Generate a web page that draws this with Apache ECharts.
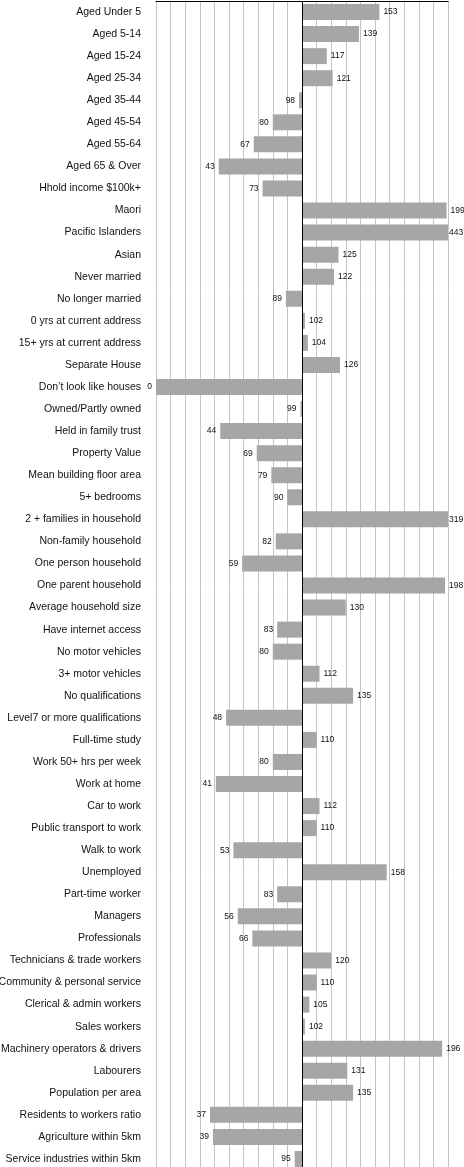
<!DOCTYPE html>
<html><head><meta charset="utf-8">
<script src="https://cdn.jsdelivr.net/npm/echarts@6/dist/echarts.min.js"></script>
<style>html,body{margin:0;padding:0;background:#fff;overflow:hidden}#c{width:464px;height:1167px}</style>
</head><body><div id="c"></div>
<script>
const categories = [
  "Aged Under 5","Aged 5-14","Aged 15-24","Aged 25-34","Aged 35-44","Aged 45-54","Aged 55-64","Aged 65 & Over",
  "Hhold income $100k+","Maori","Pacific Islanders","Asian","Never married","No longer married",
  "0 yrs at current address","15+ yrs at current address","Separate House","Don\u2019t look like houses",
  "Owned/Partly owned","Held in family trust","Property Value","Mean building floor area","5+ bedrooms",
  "2 + families in household","Non-family household","One person household","One parent household",
  "Average household size","Have internet access","No motor vehicles","3+ motor vehicles","No qualifications",
  "Level7 or more qualifications","Full-time study","Work 50+ hrs per week","Work at home","Car to work",
  "Public transport to work","Walk to work","Unemployed","Part-time worker","Managers","Professionals",
  "Technicians & trade workers","Community & personal service","Clerical & admin workers","Sales workers",
  "Machinery operators & drivers","Labourers","Population per area","Residents to workers ratio",
  "Agriculture within 5km","Service industries within 5km"
];
const values = [
  153,139,117,121,98,80,67,43,
  73,199,443,125,122,89,
  102,104,126,0,
  99,44,69,79,90,
  319,82,59,198,
  130,83,80,112,135,
  48,110,80,41,112,
  110,53,158,83,56,66,
  120,110,105,102,
  196,131,135,37,
  39,95
];
const baseline = 100;
const axisMin = 0, axisMax = 200, tickStep = 10;

const chart = echarts.init(document.getElementById('c'), null, {renderer: 'canvas'});
chart.setOption({
  animation: false,
  grid: {left: 156, right: 16, top: 1, height: 1169, containLabel: false, outerBoundsMode: 'none'},
  xAxis: {
    type: 'value', position: 'top',
    min: axisMin - baseline, max: axisMax - baseline, interval: tickStep,
    axisLine: {show: true, lineStyle: {color: '#000', width: 1}},
    axisTick: {show: false}, axisLabel: {show: false},
    splitLine: {show: true, lineStyle: {color: '#c4c4c4', width: 1}}
  },
  yAxis: {
    type: 'category', inverse: true, data: categories,
    axisLine: {show: false}, axisTick: {show: false},
    axisLabel: {margin: 15, fontSize: 10.5, color: '#111', fontFamily: '"Liberation Sans", Arial, sans-serif'}
  },
  series: [{
    type: 'bar', barWidth: 16,
    data: values.map(v => ({
      value: v - baseline,
      label: {position: v >= baseline ? 'right' : 'left', distance: v > axisMax ? 1 : 4}
    })),
    itemStyle: {color: '#a6a6a6'},
    label: {
      show: true, formatter: p => String(values[p.dataIndex]),
      fontSize: 8.5, color: '#111', fontFamily: '"Liberation Sans", Arial, sans-serif'
    },
    markLine: {
      silent: true, symbol: 'none', label: {show: false},
      lineStyle: {color: '#000', width: 1, type: 'solid'},
      data: [{xAxis: 0}]
    }
  }]
});
</script>
</body></html>
